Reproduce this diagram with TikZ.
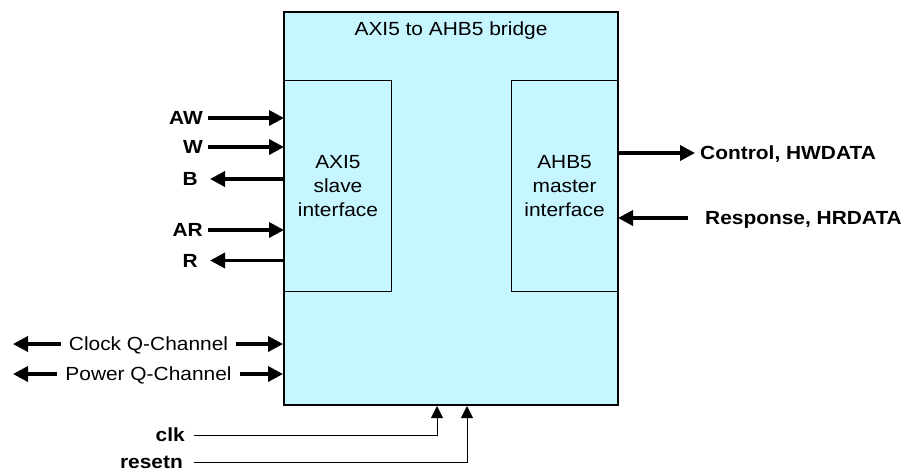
\documentclass[tikz,border=0pt]{standalone}
\usepackage{fontspec}
\setmainfont[FakeStretch=1.1]{Liberation Sans}
\usetikzlibrary{arrows.meta}
\definecolor{Ink}{HTML}{000000}
\definecolor{Ice}{HTML}{C6F6FF}
\newcommand\diagfont{\fontsize{19pt}{24pt}\selectfont}
\tikzset{
  bridgebox/.style={
    draw=Ink, line width=2pt, fill=Ice, inner sep=0pt,
    minimum width=334pt, minimum height=393pt
  },
  iface/.style={
    draw=Ink, line width=0.9pt, fill=Ice, inner sep=0pt,
    minimum height=211pt, align=center, font=\diagfont
  },
  sig/.style={
    font=\diagfont\bfseries, inner xsep=5pt, inner ysep=0pt,
    text height=13.6pt, text depth=0pt
  },
  qsig/.style={sig, font=\diagfont, inner xsep=8pt},
  bus/.style={-{Triangle[length=15pt,width=15pt]}, line width=3.5pt, draw=Ink},
  wire/.style={-{Triangle[length=12pt,width=12pt]}, line width=1pt, draw=Ink}
}

\begin{document}
\begin{tikzpicture}[x=1pt,y=-1pt]
    \useasboundingbox (0,0) rectangle (916,472);
    % bridge and its two interfaces
    \node[bridgebox] (bridge) at (451,208.5) {};
    \node[font=\diagfont, inner sep=0pt, text height=13.6pt, text depth=0pt]
      (title) at (451,28.5) {AXI5 to AHB5 bridge};
    \node[iface, anchor=north west, minimum width=107pt] (slave) at (284,80)
      {AXI5\\slave\\interface};
    \node[iface, anchor=north east, minimum width=106pt] (master) at (618,80)
      {AHB5\\master\\interface};
    % AXI5 channels
    \node[sig, anchor=east] (aw) at (208,118) {AW};
    \node[sig, anchor=east] (w) at (208,147) {W};
    \node[sig, anchor=east, inner xsep=12pt] (b) at (210,179) {B};
    \node[sig, anchor=east] (ar) at (208,230) {AR};
    \node[sig, anchor=east, inner xsep=12pt] (r) at (210,260.5) {R};
    \draw[bus] (aw) -- (aw -| slave.west);
    \draw[bus] (w) -- (w -| slave.west);
    \draw[bus] (b -| slave.west) -- (b);
    \draw[bus] (ar) -- (ar -| slave.west);
    \draw[bus] (r -| slave.west) -- (r);
    % AHB5 side
    \node[sig, anchor=west] (ctrl) at (695,153) {Control, HWDATA};
    \node[sig, anchor=west, inner xsep=17pt] (resp) at (688,218) {Response, HRDATA};
    \draw[bus] (master.east |- ctrl) -- (ctrl);
    \draw[bus] (resp) -- (resp -| master.east);
    % Q-Channels
    \coordinate (qedge) at (13,0);
    \node[qsig] (clkq) at (148.5,344) {Clock Q-Channel};
    \node[qsig] (pwrq) at (148.5,374) {Power Q-Channel};
    \draw[bus] (clkq) -- (clkq -| qedge);
    \draw[bus] (clkq) -- (clkq -| bridge.west);
    \draw[bus] (pwrq) -- (pwrq -| qedge);
    \draw[bus] (pwrq) -- (pwrq -| bridge.west);
    % clock and reset
    \coordinate (clkpin) at ([xshift=-14pt]bridge.south);
    \coordinate (rstpin) at ([xshift=16pt]bridge.south);
    \node[sig, anchor=east, inner xsep=9pt] (clk) at (194,435) {clk};
    \node[sig, anchor=east, inner xsep=11pt] (rstn) at (194,462) {resetn};
    \draw[wire] (clk) -- (clk -| clkpin) -- (clkpin);
    \draw[wire] (rstn) -- (rstn -| rstpin) -- (rstpin);
\end{tikzpicture}
\end{document}
